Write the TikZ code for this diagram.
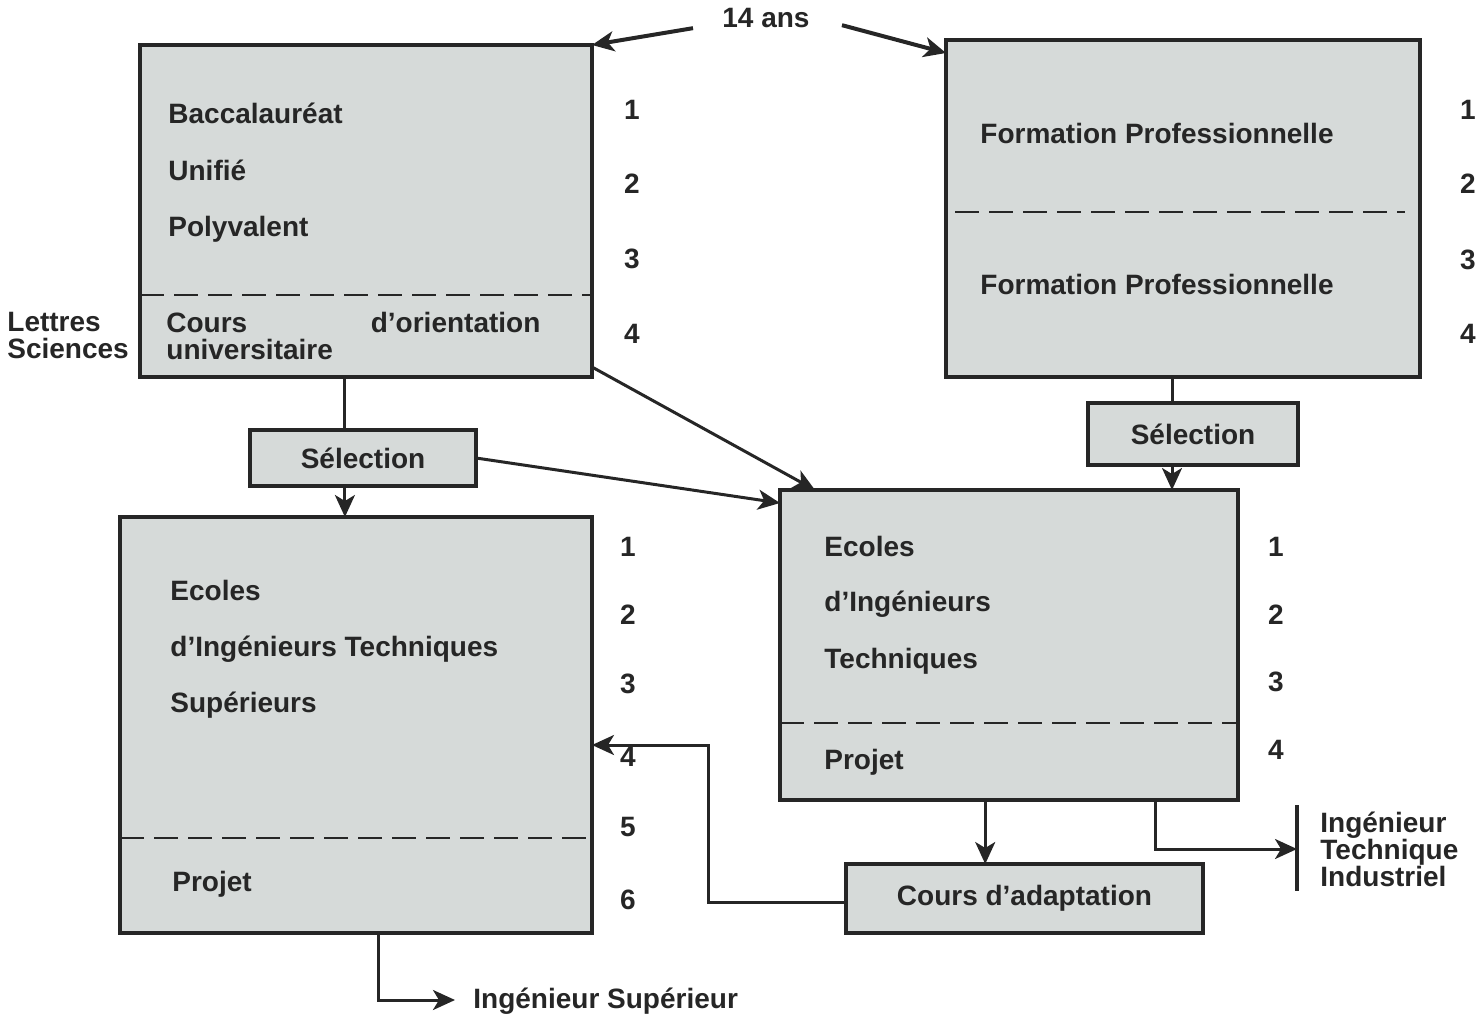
\documentclass[tikz,border=0pt]{standalone}
\usepackage{fontspec}
\setmainfont{Liberation Sans}
\usetikzlibrary{arrows.meta,positioning,calc}
\definecolor{inkDark}{RGB}{38,38,38}
\definecolor{panelGray}{RGB}{214,218,217}
\tikzset{
  panel/.style={draw=inkDark, fill=panelGray, line width=1.6pt, inner sep=0pt, outer sep=0pt, anchor=north west},
  selbox/.style={draw=inkDark, fill=panelGray, line width=1.6pt, inner sep=0pt, outer sep=0pt,
                 font=\bfseries\fontsize{14}{16}\selectfont, text=inkDark},
  boxtext/.style={font=\bfseries\fontsize{14}{16}\selectfont, text=inkDark, anchor=west,
                  inner sep=0pt, text height=10pt, text depth=0pt},
  multitext/.style={font=\bfseries\fontsize{14}{13.5}\selectfont, text=inkDark, anchor=west,
                    inner sep=0pt, align=left},
  numtext/.style={font=\bfseries\fontsize{14}{16}\selectfont, text=inkDark, inner sep=0pt},
  divider/.style={draw=inkDark, line width=1.3pt, dash pattern=on 12pt off 5pt},
  link/.style={draw=inkDark, line width=1.5pt},
  arrow/.style={link, -{Stealth[length=11pt,width=10pt,inset=3pt]}},
  heavyarrow/.style={arrow, line width=2pt},
  endbar/.style={draw=inkDark, line width=2pt}
}
\begin{document}
\begin{tikzpicture}[x=0.5pt,y=-0.5pt]
\useasboundingbox (0,0) rectangle (1484,1013);

% cadres
\node[panel, minimum width=226pt, minimum height=166pt] (boxA) at (140,45) {};
\node[panel, minimum width=237pt, minimum height=168.5pt] (boxB) at (946,40) {};
\node[panel, minimum width=236pt, minimum height=208pt] (boxC) at (120,517) {};
\node[panel, minimum width=229pt, minimum height=155pt] (boxD) at (780,490) {};
\node[selbox, minimum width=113pt, minimum height=28pt] (selL) at (363,458) {Sélection};
\node[selbox, minimum width=105pt, minimum height=31pt] (selR) at (1193,434) {Sélection};
\node[selbox, minimum width=178.5pt, minimum height=34.5pt] (adapt) at (1024.5,898.5) {Cours d'adaptation};

% separations
\draw[divider] (140,295) -- (592,295);
\draw[divider] (955,212) -- (1405,212);
\draw[divider] (120,838) -- (592,838);
\draw[divider] (780,723) -- (1238,723);

% textes
\node[numtext] (age) at (766,18) {14 ans};
\node[boxtext] (bacc) at (168,113) {Baccalauréat};
\node[boxtext] (unif) at (168,170) {Unifié};
\node[boxtext] (poly) at (168,226) {Polyvalent};
\node[multitext] (cours) at (166,335.5) {\makebox[187pt][s]{Cours d'orientation}\\universitaire};
\node[multitext] (lettres) at (7,335.5) {Lettres\\Sciences};
\node[boxtext] (formA) at (980,133) {Formation Professionnelle};
\node[boxtext] (formB) at (980,284) {Formation Professionnelle};
\node[boxtext] (ecolC) at (170,590) {Ecoles};
\node[boxtext] (ingC) at (170,646) {d'Ingénieurs Techniques};
\node[boxtext] (supC) at (170,702) {Supérieurs};
\node[boxtext] (projC) at (172,881) {Projet};
\node[boxtext] (ecolD) at (824,546) {Ecoles};
\node[boxtext] (ingD) at (824,601) {d'Ingénieurs};
\node[boxtext] (techD) at (824,658) {Techniques};
\node[boxtext] (projD) at (824,759) {Projet};
\node[multitext] (indT) at (1320,849) {Ingénieur\\Technique\\Industriel};
\node[boxtext] (engSup) at (473,998) {Ingénieur Supérieur};

% annees
\foreach \n/\y in {1/110,2/184,3/259,4/334}
  \node[numtext] (numA\n) at (632,\y) {\n};
\foreach \n/\y in {1/110,2/184,3/260,4/334}
  \node[numtext] (numB\n) at (1468,\y) {\n};
\foreach \n/\y in {1/547,2/615,3/684,4/757,5/827,6/900}
  \node[numtext] (numC\n) at (628,\y) {\n};
\foreach \n/\y in {1/547,2/615,3/682,4/750}
  \node[numtext] (numD\n) at (1276,\y) {\n};

% liaisons
\draw[heavyarrow] ([xshift=-14.5pt]age.south west) -- (boxA.north east);
\draw[heavyarrow] ([xshift=16pt,yshift=1.5pt]age.south east) -- ([yshift=-6.5pt]boxB.north west);
\draw[arrow] ([yshift=5pt]boxA.south east) -- ([xshift=17.5pt]boxD.north west);
\draw[arrow] (selL.east) -- ([yshift=-6.5pt]boxD.north west);

\coordinate (tapL) at ($(selL.north west)!0.42!(selL.north east)$);
\draw[link] (boxA.south -| tapL) -- (tapL);
\draw[arrow] (selL.south -| tapL) -- (boxC.north -| tapL);

\coordinate (tapR) at ($(selR.north west)!0.4!(selR.north east)$);
\draw[link] (boxB.south -| tapR) -- (tapR);
\draw[arrow] (selR.south -| tapR) -- (boxD.north -| tapR);

\coordinate (tapD) at ($(adapt.north west)!0.39!(adapt.north east)$);
\draw[arrow] (boxD.south -| tapD) -- (tapD);

\coordinate (tapT) at ($(boxD.south west)!0.82!(boxD.south east)$);
\coordinate (barMid) at ([xshift=-11.5pt]indT.west);
\draw[arrow] (tapT) |- (barMid);
\draw[endbar] ([xshift=-11.5pt,yshift=3pt]indT.north west) -- ([xshift=-11.5pt,yshift=-2pt]indT.south west);

\coordinate (loopTurn) at (708,745);
\draw[arrow] ([yshift=-2pt]adapt.west) -| (loopTurn) -- (loopTurn -| boxC.east);

\coordinate (tapC) at ($(boxC.south west)!0.547!(boxC.south east)$);
\draw[arrow] (tapC) |- ([xshift=-9pt,yshift=-1pt]engSup.west);
\end{tikzpicture}
\end{document}
